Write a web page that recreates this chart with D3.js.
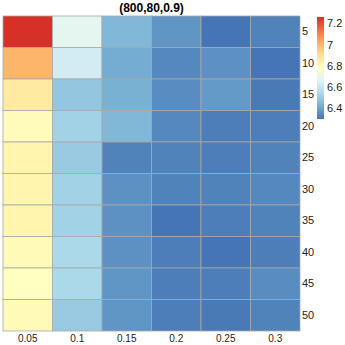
<!DOCTYPE html>
<html>
<head>
<meta charset="utf-8">
<script src="https://cdn.jsdelivr.net/npm/d3@7"></script>
<style>
  body { margin: 0; background: #fff; }
  text { font-family: "Liberation Sans", Arial, sans-serif; }
</style>
</head>
<body>
<div id="chart"></div>
<script>
// columns (x) and rows (y)
let colLabels = ['0.05', '0.1', '0.15', '0.2', '0.25', '0.3']
let rowLabels = ['5', '10', '15', '20', '25', '30', '35', '40', '45', '50']

// one array of values per row
let row5  = [7.26, 6.68, 6.45, 6.37, 6.30, 6.33]
let row10 = [7.00, 6.63, 6.42, 6.34, 6.36, 6.30]
let row15 = [6.86, 6.49, 6.43, 6.35, 6.38, 6.31]
let row20 = [6.79, 6.52, 6.45, 6.34, 6.32, 6.32]
let row25 = [6.82, 6.50, 6.33, 6.33, 6.32, 6.33]
let row30 = [6.82, 6.52, 6.36, 6.33, 6.33, 6.34]
let row35 = [6.82, 6.52, 6.36, 6.30, 6.32, 6.33]
let row40 = [6.80, 6.54, 6.36, 6.32, 6.30, 6.32]
let row45 = [6.78, 6.54, 6.37, 6.32, 6.32, 6.35]
let row50 = [6.80, 6.50, 6.37, 6.32, 6.31, 6.33]

let rows = [row5, row10, row15, row20, row25, row30, row35, row40, row45, row50]
let legendTicks = [6.4, 6.6, 6.8, 7, 7.2]
let title = '(800,80,0.9)'

let width = 345
let height = 345
let margin = ({top: 16, right: 45, bottom: 14, left: 3})

let cells = []
rows.forEach(function(r, i){
	r.forEach(function(v, j){
		cells.push({row: rowLabels[i], col: colLabels[j], value: v})
	})
})

let palette = ['#4575b4', '#74add1', '#abd9e9', '#e0f3f8', '#ffffbf', '#fee090', '#fdae61', '#f46d43', '#d73027']
let ext = d3.extent(cells, d => d.value)
let color = d3.scaleLinear()
	.domain(palette.map((c, i) => ext[0] + i * (ext[1] - ext[0]) / (palette.length - 1)))
	.range(palette)

let x = d3.scaleBand()
	.domain(colLabels)
	.range([margin.left, 300])

let y = d3.scaleBand()
	.domain(rowLabels)
	.range([margin.top, height - margin.bottom])

const svg = d3.select('#chart')
	.append('svg')
	.attr('width', width)
	.attr('height', height)

svg.append('g')
	.selectAll('rect')
	.data(cells)
	.enter()
	.append('rect')
	.attr('x', d => x(d.col))
	.attr('y', d => y(d.row))
	.attr('width', x.bandwidth())
	.attr('height', y.bandwidth())
	.attr('fill', d => color(d.value))
	.attr('stroke', '#a8a8a8')
	.attr('stroke-width', 0.8)

let xAxis = g => g
	.attr('transform', `translate(0,${height - margin.bottom})`)
	.call(d3.axisBottom(x).tickSize(0).tickPadding(4))
	.call(g => g.select('.domain').remove())

let yAxis = g => g
	.attr('transform', `translate(300,0)`)
	.call(d3.axisRight(y).tickSize(0).tickPadding(2))
	.call(g => g.select('.domain').remove())

svg.append('g').call(xAxis)
	.selectAll('text')
	.attr('font-size', 10)
	.attr('font-family', '"Liberation Sans", Arial, sans-serif')
	.attr('fill', '#222')

svg.append('g').call(yAxis)
	.selectAll('text')
	.attr('font-size', 11)
	.attr('font-family', '"Liberation Sans", Arial, sans-serif')
	.attr('fill', '#222')

svg.append('text')
	.attr('x', (margin.left + 300) / 2)
	.attr('y', 12)
	.attr('text-anchor', 'middle')
	.attr('font-size', 12)
	.attr('font-weight', 'bold')
	.text(title)

// colour bar
let legTop = 17
let legBottom = 119
let legendY = d3.scaleLinear()
	.domain([ext[0], ext[1]])
	.range([legBottom, legTop])

let grad = svg.append('defs')
	.append('linearGradient')
	.attr('id', 'grad')
	.attr('x1', 0).attr('y1', 1)
	.attr('x2', 0).attr('y2', 0)

color.domain().forEach(function(v, i){
	grad.append('stop')
		.attr('offset', i / (palette.length - 1))
		.attr('stop-color', palette[i])
})

svg.append('rect')
	.attr('x', 317)
	.attr('y', legTop)
	.attr('width', 7)
	.attr('height', legBottom - legTop)
	.attr('fill', 'url(#grad)')

svg.append('g')
	.attr('transform', 'translate(324,0)')
	.call(d3.axisRight(legendY).tickValues(legendTicks).tickSize(0).tickPadding(3).tickFormat(d3.format('')))
	.call(g => g.select('.domain').remove())
	.selectAll('text')
	.attr('font-size', 11)
	.attr('font-family', '"Liberation Sans", Arial, sans-serif')
	.attr('fill', '#222')
</script>
</body>
</html>
